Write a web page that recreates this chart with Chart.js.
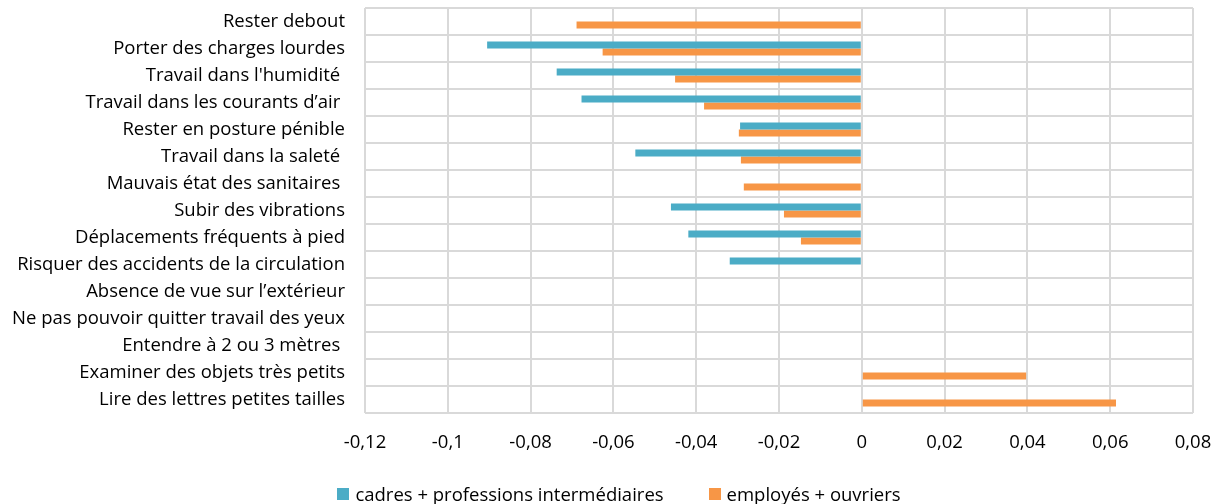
<!DOCTYPE html>
<html>
<head>
<meta charset="utf-8">
<script src="https://cdn.jsdelivr.net/npm/chart.js@4.4.0/dist/chart.umd.min.js"></script>
<style>
  html, body { margin: 0; padding: 0; background: #fff; }
  .chart { width: 1220px; height: 504px; position: relative; }
  .legend {
    position: absolute;
    left: 0;
    top: 481px;
    width: 1238px;
    display: flex;
    justify-content: center;
    gap: 45px;
    font-family: "Open Sans", sans-serif;
    font-size: 18.5px;
    line-height: 26px;
    color: #000;
  }
  .legend span { display: flex; align-items: center; white-space: pre; }
  .legend i { display: inline-block; width: 12px; height: 12px; margin-right: 6px; }
</style>
</head>
<body>
<div class="chart"><canvas id="chart"></canvas><div class="legend" id="legend"></div></div>
<script>
// categories, top to bottom
const categories = [
  "Rester debout",
  "Porter des charges lourdes",
  "Travail dans l'humidité ",
  "Travail dans les courants d’air ",
  "Rester en posture pénible",
  "Travail dans la saleté ",
  "Mauvais état des sanitaires ",
  "Subir des vibrations",
  "Déplacements fréquents à pied",
  "Risquer des accidents de la circulation",
  "Absence de vue sur l’extérieur",
  "Ne pas pouvoir quitter travail des yeux",
  "Entendre à 2 ou 3 mètres ",
  "Examiner des objets très petits",
  "Lire des lettres petites tailles",
];

const cadresValues = [null, -0.0905, -0.0737, -0.0677, -0.0294, -0.0547, null, -0.0461, -0.0419, -0.0319, null, null, null, null, null];
const employesValues = [-0.0689, -0.0626, -0.0451, -0.0381, -0.0297, -0.0292, -0.0285, -0.0188, -0.0147, null, null, null, null, 0.0397, 0.0614];

const xTickValues = [-0.12, -0.1, -0.08, -0.06, -0.04, -0.02, 0, 0.02, 0.04, 0.06, 0.08];
const xTickLabels = ["-0,12", "-0,1", "-0,08", "-0,06", "-0,04", "-0,02", "0", "0,02", "0,04", "0,06", "0,08"];

const font = "'Open Sans', sans-serif";
const gridColor = "#d9d9d9";

function xLabel(value) {
  const i = xTickValues.findIndex((v) => Math.abs(v - value) < 1e-9);
  return i < 0 ? "" : xTickLabels[i];
}

const chart = new Chart(document.getElementById("chart"), {
  type: "bar",
  data: {
    labels: categories,
    datasets: [
      {
        label: "cadres + professions intermédiaires",
        data: cadresValues,
        backgroundColor: "#4bacc6",
      },
      {
        label: "employés + ouvriers",
        data: employesValues,
        backgroundColor: "#f79646",
      },
    ],
  },
  options: {
    indexAxis: "y",
    responsive: true,
    maintainAspectRatio: false,
    animation: false,
    barPercentage: 1,
    categoryPercentage: 0.52,
    layout: { padding: { top: 8, right: 27, bottom: 0, left: 0 } },
    plugins: {
      tooltip: { enabled: false },
      legend: { display: false },
    },
    scales: {
      x: {
        min: -0.12,
        max: 0.08,
        afterFit: (scale) => {
          scale.height = 91;
          scale.paddingLeft = 0;
          scale.paddingRight = 0;
        },
        ticks: {
          stepSize: 0.02,
          color: "#000",
          font: { family: font, size: 18.5 },
          padding: 19,
          maxRotation: 0,
          autoSkip: false,
          callback: (value) => xLabel(value),
        },
        grid: { color: gridColor, lineWidth: 2, drawTicks: false },
        border: { display: false },
      },
      y: {
        afterFit: (scale) => {
          scale.width = 365;
          scale.paddingTop = 0;
          scale.paddingBottom = 0;
        },
        ticks: {
          color: "#000",
          font: { family: font, size: 18.5 },
          padding: 20,
          autoSkip: false,
        },
        grid: { color: gridColor, lineWidth: 2, drawTicks: false, offset: true },
        border: { display: false },
      },
    },
  },
});

// html legend built from the datasets
const legend = document.getElementById("legend");
chart.data.datasets.forEach((ds) => {
  const item = document.createElement("span");
  const box = document.createElement("i");
  box.style.background = ds.backgroundColor;
  item.appendChild(box);
  item.appendChild(document.createTextNode(ds.label));
  legend.appendChild(item);
});
</script>
</body>
</html>
